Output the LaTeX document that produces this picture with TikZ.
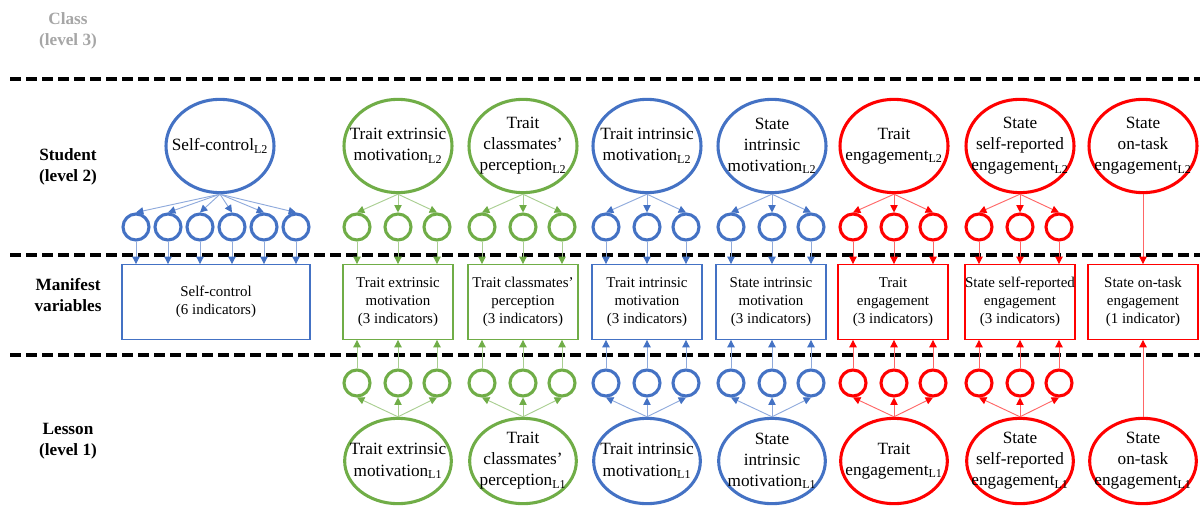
\documentclass[tikz,border=0pt]{standalone}
\usepackage{fontspec}
\setmainfont{Liberation Serif}
\usetikzlibrary{shapes.geometric,arrows.meta,positioning}
\definecolor{myblue}{RGB}{68,114,196}
\definecolor{mygreen}{RGB}{112,173,71}
\definecolor{myred}{RGB}{255,0,0}
\definecolor{mygray}{RGB}{166,166,166}
\begin{document}
\begin{tikzpicture}[
  x=0.75pt,y=-0.75pt,
  lat/.style={draw,ellipse,line width=2.3pt,minimum width=81pt,minimum height=70pt,inner sep=0pt},
  latl/.style={lat,minimum width=80pt,minimum height=64pt},
  res/.style={draw,circle,line width=2.3pt,minimum size=19.5pt,inner sep=0pt},
  man/.style={draw,rectangle,line width=0.9pt,minimum width=82.5pt,minimum height=56pt,inner sep=0pt,
    align=center,text=black,font=\fontsize{11.2}{13.6}\selectfont},
  lab/.style={align=center,text=black,font=\fontsize{12.9}{15.8}\selectfont},
  level/.style={align=center,font=\bfseries\fontsize{12.9}{15.8}\selectfont},
  sep/.style={line width=2.6pt,dash pattern=on 8pt off 4pt},
  conn/.style={draw=#1!60,line width=0.7pt,-{Triangle[length=5.5pt,width=5.5pt,color=#1]}}
]
  \useasboundingbox (0,0) rectangle (1200,506);

  % levels
  \node[level,text=mygray] (lvC) at (68,31)  {Class\\(level 3)};
  \node[level]             (lvS) at (68,167) {Student\\(level 2)};
  \node[level]             (lvM) at (68,295) {Manifest\\variables};
  \node[level]             (lvL) at (68,441) {Lesson\\(level 1)};

  \draw[sep] (10,79)  -- (1200,79);
  \draw[sep] (10,255) -- (1200,255);
  \draw[sep] (10,355) -- (1200,355);

  % student level
  \node[lat,draw=myblue, label={[lab]center:Self-control\textsubscript{L2}}] (s1) at (220,146) {};
  \node[lat,draw=mygreen,label={[lab]center:Trait extrinsic\\motivation\textsubscript{L2}}] (s2) at (398,146) {};
  \node[lat,draw=mygreen,label={[lab]center:Trait\\classmates'\\perception\textsubscript{L2}}] (s3) at (523,146) {};
  \node[lat,draw=myblue, label={[lab]center:Trait intrinsic\\motivation\textsubscript{L2}}] (s4) at (647,146) {};
  \node[lat,draw=myblue, label={[lab]center:State\\intrinsic\\motivation\textsubscript{L2}}] (s5) at (772,146) {};
  \node[lat,draw=myred,  label={[lab]center:Trait\\engagement\textsubscript{L2}}] (s6) at (894,146) {};
  \node[lat,draw=myred,  label={[lab]center:State\\self-reported\\engagement\textsubscript{L2}}] (s7) at (1020,146) {};
  \node[lat,draw=myred,  label={[lab]center:State\\on-task\\engagement\textsubscript{L2}}] (s8) at (1143,146) {};

  % manifest variables
  \node[man,draw=myblue,minimum width=141pt] (b1) at (216,302) {Self-control\\(6 indicators)};
  \node[man,draw=mygreen] (b2) at (398,302)  {Trait extrinsic\\motivation\\(3 indicators)};
  \node[man,draw=mygreen] (b3) at (523,302)  {Trait classmates'\\perception\\(3 indicators)};
  \node[man,draw=myblue]  (b4) at (647,302)  {Trait intrinsic\\motivation\\(3 indicators)};
  \node[man,draw=myblue]  (b5) at (771,302)  {State intrinsic\\motivation\\(3 indicators)};
  \node[man,draw=myred]   (b6) at (893,302)  {Trait\\engagement\\(3 indicators)};
  \node[man,draw=myred]   (b7) at (1020,302) {State self-reported\\engagement\\(3 indicators)};
  \node[man,draw=myred]   (b8) at (1143,302) {State on-task\\engagement\\(1 indicator)};

  % lesson level
  \node[latl,draw=mygreen,label={[lab]center:Trait extrinsic\\motivation\textsubscript{L1}}] (l2) at (398,461) {};
  \node[latl,draw=mygreen,label={[lab]center:Trait\\classmates'\\perception\textsubscript{L1}}] (l3) at (523,461) {};
  \node[latl,draw=myblue, label={[lab]center:Trait intrinsic\\motivation\textsubscript{L1}}] (l4) at (647,461) {};
  \node[latl,draw=myblue, label={[lab]center:State\\intrinsic\\motivation\textsubscript{L1}}] (l5) at (772,461) {};
  \node[latl,draw=myred,  label={[lab]center:Trait\\engagement\textsubscript{L1}}] (l6) at (894,461) {};
  \node[latl,draw=myred,  label={[lab]center:State\\self-reported\\engagement\textsubscript{L1}}] (l7) at (1020,461) {};
  \node[latl,draw=myred,  label={[lab]center:State\\on-task\\engagement\textsubscript{L1}}] (l8) at (1143,461) {};

  % self-control residuals
  \foreach \i in {1,...,6} {
    \node[res,draw=myblue] (s1-\i) at (104+32*\i,227) {};
    \draw[conn=myblue] (s1.south) -- (s1-\i.north);
    \draw[conn=myblue] (s1-\i.south) -- (s1-\i.south |- b1.north);
  }

  % residuals of the other columns
  \foreach \n/\x/\c in {2/398/mygreen,3/523/mygreen,4/647/myblue,5/772/myblue,6/894/myred,7/1020/myred} {
    \foreach \i/\dx in {1/-41,2/0,3/39} {
      \node[res,draw=\c] (s\n-\i) at (\x+\dx,227) {};
      \node[res,draw=\c] (l\n-\i) at (\x+\dx,383) {};
      \draw[conn=\c] (s\n.south) -- (s\n-\i.north);
      \draw[conn=\c] (s\n-\i.south) -- (s\n-\i.south |- b\n.north);
      \draw[conn=\c] (l\n.north) -- (l\n-\i.south);
      \draw[conn=\c] (l\n-\i.north) -- (l\n-\i.north |- b\n.south);
    }
  }

  \draw[conn=myred] (s8.south) -- (b8.north);
  \draw[conn=myred] (l8.north) -- (b8.south);

\end{tikzpicture}
\end{document}
